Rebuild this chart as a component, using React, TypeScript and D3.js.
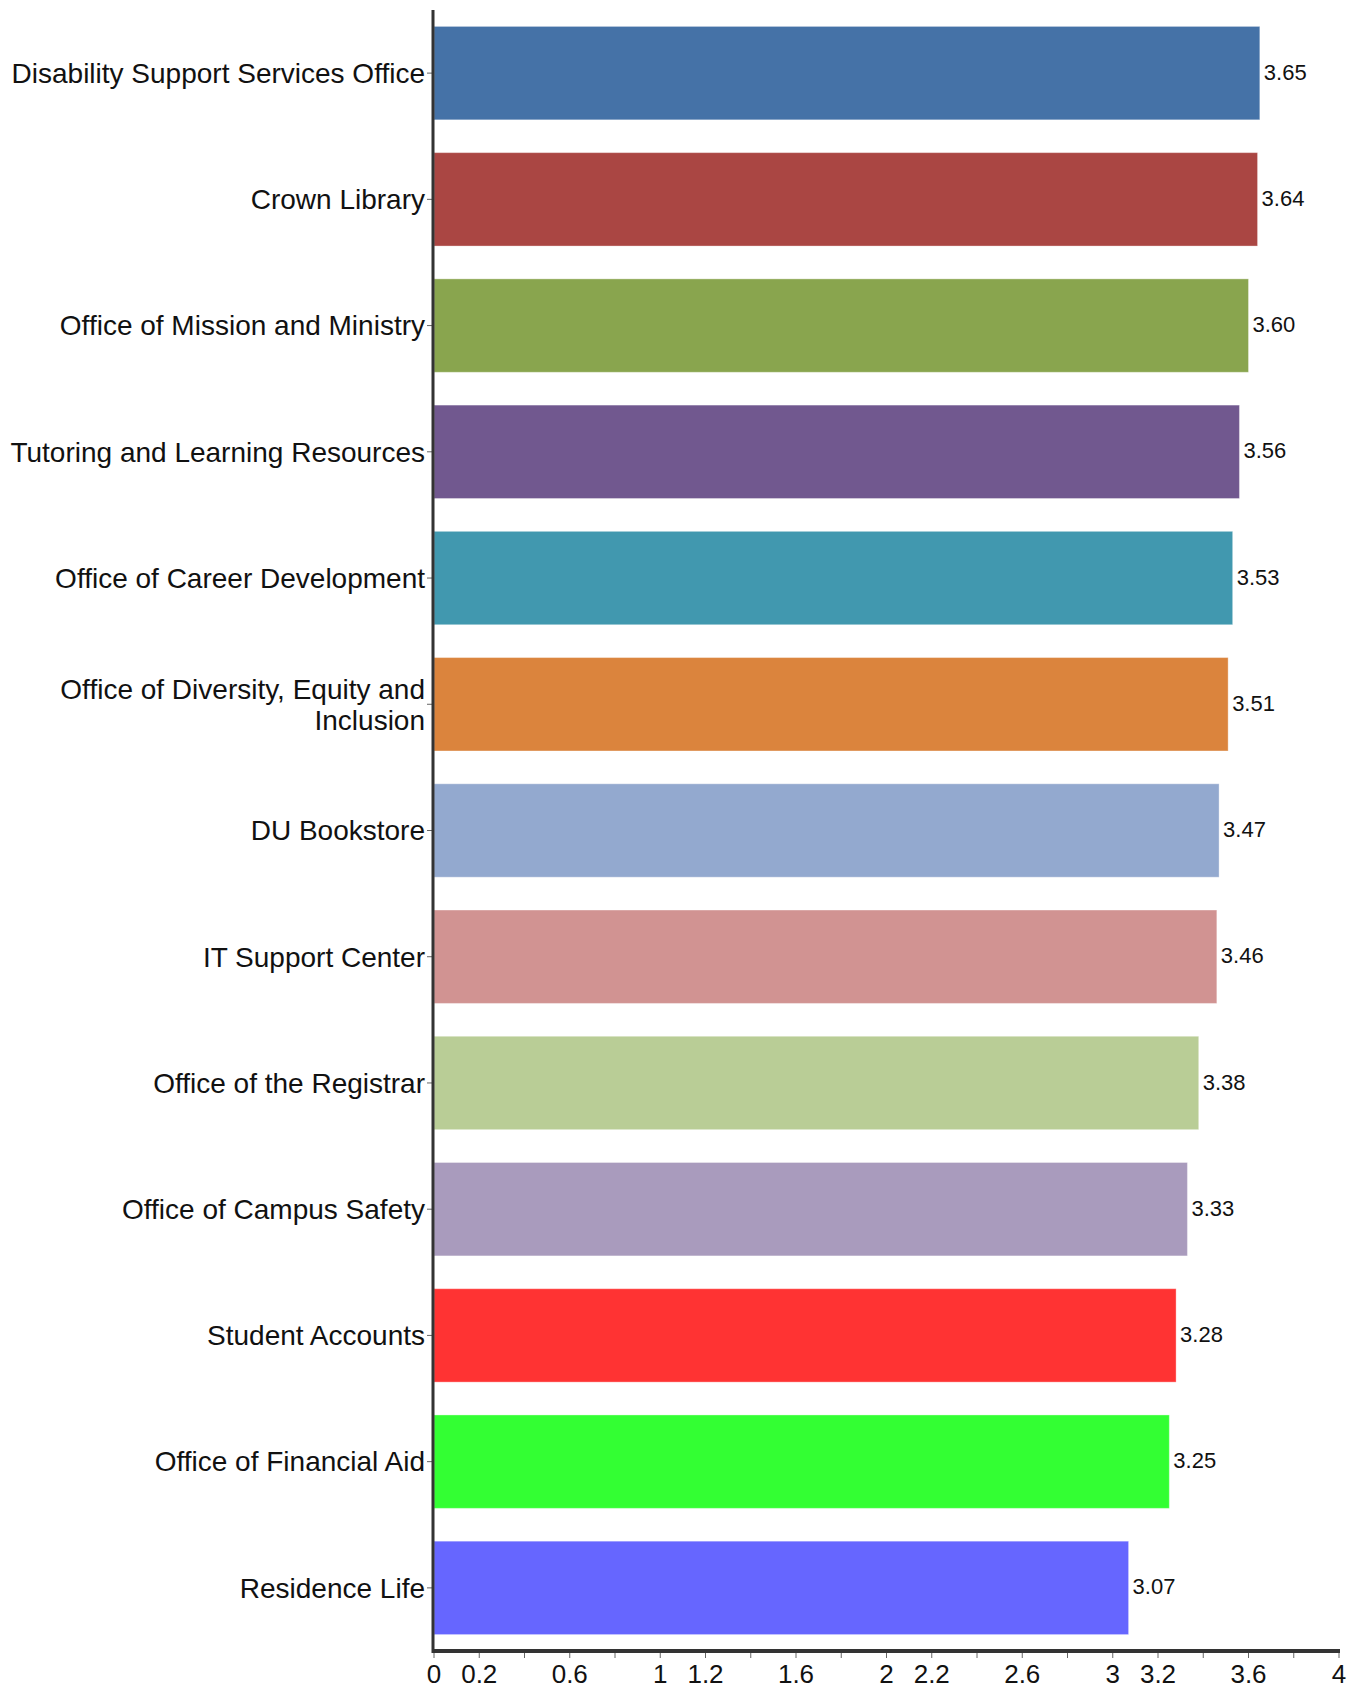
import React, { useRef, useEffect } from "react";
import * as d3 from "d3";

const categories = [
  "Disability Support Services Office",
  "Crown Library",
  "Office of Mission and Ministry",
  "Tutoring and Learning Resources",
  "Office of Career Development",
  "Office of Diversity, Equity and|Inclusion",
  "DU Bookstore",
  "IT Support Center",
  "Office of the Registrar",
  "Office of Campus Safety",
  "Student Accounts",
  "Office of Financial Aid",
  "Residence Life",
];

const values = [3.65, 3.64, 3.6, 3.56, 3.53, 3.51, 3.47, 3.46, 3.38, 3.33, 3.28, 3.25, 3.07];

const colors = [
  "#4572A7", "#AA4643", "#89A54E", "#71588F", "#4198AF", "#DB843D", "#93A9CF",
  "#D19392", "#B9CD96", "#A99BBD", "#FF3333", "#33FF33", "#6666FF",
];

const tickValues = d3.range(0, 21).map((i) => i * 0.2);
const tickLabels = [0, 0.2, 0.6, 1, 1.2, 1.6, 2, 2.2, 2.6, 3, 3.2, 3.6, 4];

const width = 1359;
const height = 1688;
const left = 434;
const right = 1339;
const top = 10;
const bottom = 1651;
const font = "'Liberation Sans', Arial, sans-serif";

export default function App() {
  const ref = useRef(null);

  useEffect(() => {
    const svg = d3.select(ref.current);
    svg.selectAll("*").remove();

    const x = d3.scaleLinear().domain([0, 4]).range([left, right]);
    const y = d3
      .scaleBand()
      .domain(categories)
      .range([top, bottom])
      .paddingInner(0.26)
      .paddingOuter(0.13);

    // bars
    svg
      .append("g")
      .selectAll("rect")
      .data(values)
      .join("rect")
      .attr("x", x(0))
      .attr("y", (d, i) => y(categories[i]))
      .attr("width", (d) => x(d) - x(0))
      .attr("height", y.bandwidth())
      .attr("fill", (d, i) => colors[i])
      .attr("stroke", "rgba(255,255,255,0.35)")
      .attr("stroke-width", 1);

    // value labels
    svg
      .append("g")
      .selectAll("text")
      .data(values)
      .join("text")
      .attr("x", (d) => x(d) + 4)
      .attr("y", (d, i) => y(categories[i]) + y.bandwidth() / 2)
      .attr("dy", "0.3em")
      .attr("font-family", font)
      .attr("font-size", 22)
      .attr("fill", "#111")
      .text((d) => d.toFixed(2));

    // category labels
    const lab = svg.append("g");
    categories.forEach((c, i) => {
      const lines = c.split("|");
      const cy = y(c) + y.bandwidth() / 2;
      const lh = 31;
      const t = lab
        .append("text")
        .attr("x", left - 9)
        .attr("y", cy)
        .attr("text-anchor", "end")
        .attr("font-family", font)
        .attr("font-size", 28)
        .attr("fill", "#111");
      lines.forEach((l, j) => {
        t.append("tspan")
          .attr("x", left - 9)
          .attr("y", cy + (j - (lines.length - 1) / 2) * lh)
          .attr("dy", "0.35em")
          .text(l);
      });
      lab
        .append("line")
        .attr("x1", left - 7)
        .attr("x2", left)
        .attr("y1", cy)
        .attr("y2", cy)
        .attr("stroke", "#666")
        .attr("stroke-width", 1);
    });

    // x axis
    const ax = svg.append("g");
    ax.selectAll("line.tick")
      .data(tickValues)
      .join("line")
      .attr("class", "tick")
      .attr("x1", (d) => x(d))
      .attr("x2", (d) => x(d))
      .attr("y1", bottom)
      .attr("y2", bottom + 7)
      .attr("stroke", "#666")
      .attr("stroke-width", 1);
    ax.selectAll("text")
      .data(tickLabels)
      .join("text")
      .attr("x", (d) => x(d))
      .attr("y", bottom + 32)
      .attr("text-anchor", "middle")
      .attr("font-family", font)
      .attr("font-size", 26)
      .attr("fill", "#111")
      .text((d) => String(d));

    // axis lines
    svg
      .append("line")
      .attr("x1", left - 1)
      .attr("x2", right + 1)
      .attr("y1", bottom)
      .attr("y2", bottom)
      .attr("stroke", "#333")
      .attr("stroke-width", 4);
    svg
      .append("line")
      .attr("x1", left - 1)
      .attr("x2", left - 1)
      .attr("y1", top)
      .attr("y2", bottom + 2)
      .attr("stroke", "#333")
      .attr("stroke-width", 3);
  }, []);

  return (
    <svg
      ref={ref}
      width={width}
      height={height}
      style={{ position: "absolute", left: 0, top: 0, background: "#fff" }}
    />
  );
}
